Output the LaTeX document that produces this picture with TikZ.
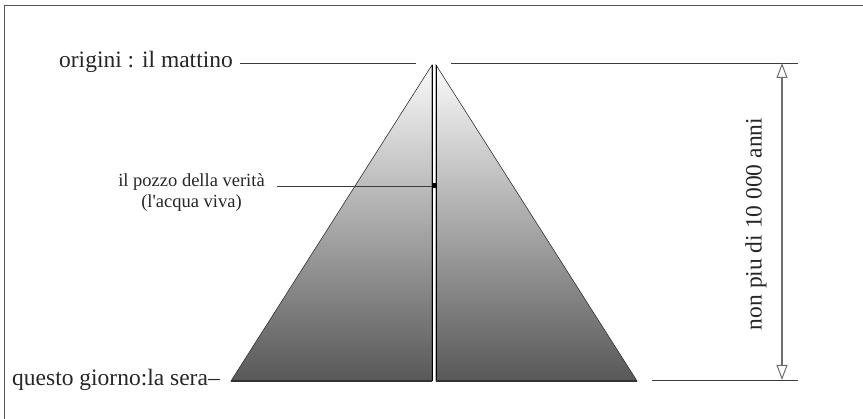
\documentclass[tikz,border=0pt]{standalone}
\usepackage{fontspec}
\setmainfont{Liberation Serif}
\usetikzlibrary{calc,arrows.meta}
\definecolor{frameGray}{RGB}{85,85,85}
\definecolor{lineGray}{RGB}{60,60,60}
\definecolor{arrowGray}{RGB}{110,110,110}
\definecolor{pyrTop}{RGB}{250,250,250}
\definecolor{pyrBottom}{RGB}{88,88,88}
\definecolor{pyrEdge}{RGB}{50,50,50}

\begin{document}
\begin{tikzpicture}[x=1pt,y=-1pt,
  lbl/.style={font=\fontsize{23.5}{26}\selectfont,text=black!85,inner sep=0pt},
  guide/.style={draw=lineGray,line width=0.9pt},
  half/.style={top color=pyrTop,bottom color=pyrBottom,draw=pyrEdge,line width=0.6pt}]
\useasboundingbox (0,0) rectangle (863,419);
% cadre
\draw[frameGray,line width=1.2pt] (4.5,419) -- (4.5,5.5) -- (863,5.5);
% piramide
\coordinate (apexL) at (432,65);
\coordinate (baseLL) at (231,381);
\coordinate (baseLR) at (432,381);
\coordinate (apexR) at (436,65);
\coordinate (baseRL) at (436,381);
\coordinate (baseRR) at (637,381);
\shade[half] (apexL) -- (baseLL) -- (baseLR) -- cycle;
\shade[half] (apexR) -- (baseRL) -- (baseRR) -- cycle;
\draw[black,line width=0.8pt] (apexL) -- (baseLR) (apexR) -- (baseRL);
\draw[pyrEdge,line width=1.2pt] (baseLL) -- (baseLR) (baseRL) -- (baseRR);
% etichette
\node[lbl,anchor=base east] (morning) at (233,68) {origini : il mattino};
\coordinate (morningEnd) at (416,63);
\draw[guide] (morning.east |- morningEnd) ++(7,0) -- (morningEnd);
\node[lbl,anchor=base west] (evening) at (12,386) {questo giorno:la sera–};
\node[lbl,align=center,font=\fontsize{18.5}{21}\selectfont] (well) at (191.5,193) {il pozzo della verità\\(l\textquotesingle acqua viva)};
\coordinate (wellDot) at (434,186);
\draw[guide] (277,186) -- (wellDot);
\fill[black] ($(wellDot)+(-2.5,-2.5)$) rectangle ++(5,5);
% misura
\coordinate (topEnd) at (798,63);
\coordinate (botEnd) at (798,380);
\coordinate (arrowTop) at (782,63);
\coordinate (arrowBot) at (782,380);
\draw[guide] (451,63) -- (topEnd);
\draw[guide] (652,380) -- (botEnd);
\draw[arrowGray,line width=1.3pt,{Triangle[open,length=15pt,width=11pt,line width=1pt]}-{Triangle[open,length=15pt,width=11pt,line width=1pt]}] (arrowTop) -- (arrowBot);
\node[lbl,rotate=90] (span) at (756,224) {non piu di 10 000 anni};
\end{tikzpicture}
\end{document}
